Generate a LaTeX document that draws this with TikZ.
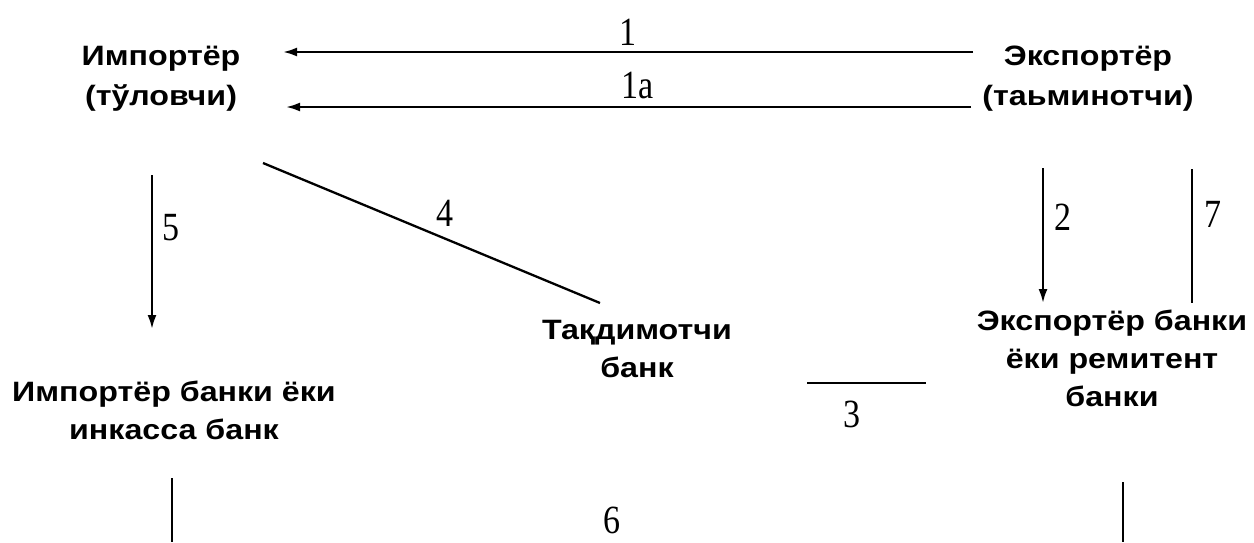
\documentclass[tikz,border=0pt]{standalone}
\usepackage{fontspec}
\usepackage{graphicx}
\usetikzlibrary{arrows.meta}
\newfontfamily\labfont{Liberation Sans}[FakeStretch=1.15]
\newfontfamily\numfont{Liberation Serif}
\newcommand\numtxt[1]{\scalebox{0.85}[1]{#1}}
\tikzset{
  party/.style={inner sep=0pt, anchor=base, align=center, font=\labfont\bfseries\fontsize{28}{40}\selectfont},
  bank/.style={party, font=\labfont\bfseries\fontsize{28}{38}\selectfont},
  numlab/.style={inner sep=0pt, anchor=base, font=\numfont\fontsize{40}{44}\selectfont},
  conn/.style={line width=2.3pt, line cap=butt},
  arr/.style={conn, -{Latex[length=14pt,width=9pt]}}
}
\begin{document}
\begin{tikzpicture}[x=1pt,y=-1pt]
\useasboundingbox[fill=white] (0,0) rectangle (1254,542);
% text blocks (anchor = baseline of the last line)
\node[party] (imp) at (161,105) {Импортёр\\(тўловчи)};
\node[party] (exp) at (1088,105) {Экспортёр\\(таьминотчи)};
\node[bank] (pres) at (637,377) {Тақдимотчи\\банк};
\node[bank] (impb) at (174,439) {Импортёр банки ёки\\инкасса банк};
\node[bank] (expb) at (1112,406) {Экспортёр банки\\ёки ремитент\\банки};
% connector end points
\coordinate (a1s) at (973,52);  \coordinate (a1e) at (283,52);
\coordinate (a1as) at (971,107); \coordinate (a1ae) at (286,107);
\coordinate (l4s) at (263,163); \coordinate (l4e) at (600,303);
\coordinate (a5s) at (152,175); \coordinate (a5e) at (152,329);
\coordinate (a2s) at (1043,168); \coordinate (a2e) at (1043,303);
\coordinate (l7s) at (1192,169); \coordinate (l7e) at (1192,303);
\coordinate (l3s) at (807,383); \coordinate (l3e) at (926,383);
\coordinate (l6as) at (172,478); \coordinate (l6ae) at (172,542);
\coordinate (l6bs) at (1123,482); \coordinate (l6be) at (1123,542);
% connectors
\draw[arr] (a1s) -- (a1e);
\draw[arr] (a1as) -- (a1ae);
\draw[conn] (l4s) -- (l4e);
\draw[arr] (a5s) -- (a5e);
\draw[arr] (a2s) -- (a2e);
\draw[conn] (l7s) -- (l7e);
\draw[conn] (l3s) -- (l3e);
\draw[conn] (l6as) -- (l6ae);
\draw[conn] (l6bs) -- (l6be);
% numbers
\node[numlab] (n1) at (628,45) {\numtxt{1}};
\node[numlab] (n1a) at (638,98) {\numtxt{1a}};
\node[numlab] (n5) at (171,240) {\numtxt{5}};
\node[numlab] (n4) at (445,226) {\numtxt{4}};
\node[numlab] (n2) at (1063,230) {\numtxt{2}};
\node[numlab] (n7) at (1213,227) {\numtxt{7}};
\node[numlab] (n3) at (852,427) {\numtxt{3}};
\node[numlab] (n6) at (612,533) {\numtxt{6}};
\end{tikzpicture}
\end{document}
